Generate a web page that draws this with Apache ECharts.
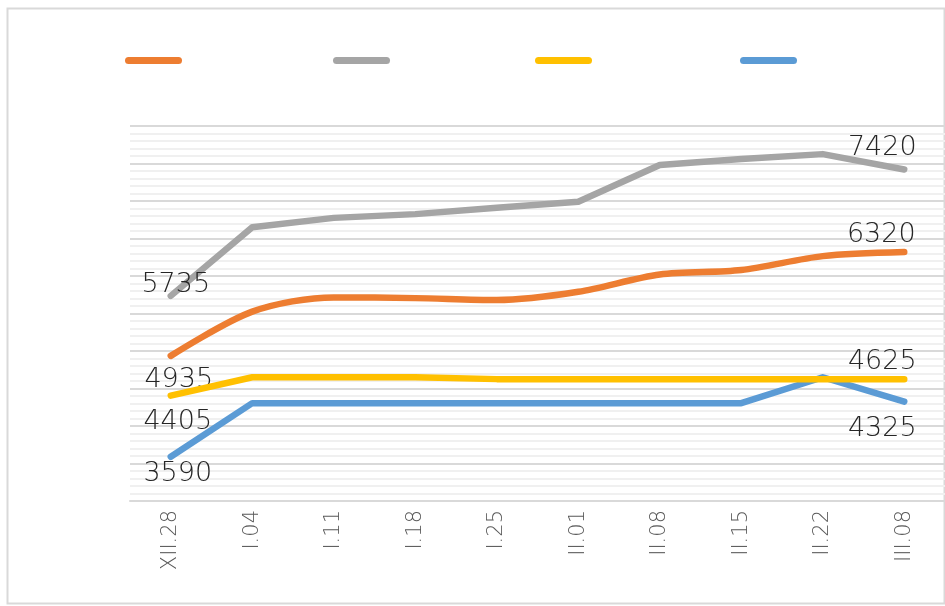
<!DOCTYPE html>
<html><head><meta charset="utf-8">
<script src="https://cdn.jsdelivr.net/npm/echarts@6/dist/echarts.min.js"></script>
<style>html,body{margin:0;padding:0;background:#fff}#c{width:945px;height:606px}</style>
</head><body><div id="c"></div>
<script>
const categories = ['XII.28','I.04','I.11','I.18','I.25','II.01','II.08','II.15','II.22','III.08'];
const seriesOrange = [4935, 5525, 5715, 5705, 5680, 5790, 6020, 6080, 6265, 6320];
const seriesGray   = [5735, 6650, 6775, 6825, 6910, 6990, 7480, 7560, 7625, 7420];
const seriesYellow = [4405, 4650, 4650, 4650, 4625, 4625, 4625, 4625, 4625, 4625];
const seriesBlue   = [3590, 4305, 4305, 4305, 4305, 4305, 4305, 4305, 4650, 4325];
const seriesNames = ['s1', 's2', 's3', 's4'];

const colors = ['#ED7D31', '#A5A5A5', '#FFC000', '#5B9BD5'];
const labelFont = {fontFamily: 'DejaVu Sans', fontWeight: 200, fontSize: 27, color: '#262626'};
// [first label offset, last label offset] relative to point center
const labelOffsets = [
  [[8, 24], [-23, -17]],
  [[5, -11], [-22, -22]],
  [[7, 26], [-22, -17]],
  [[7, 17], [-22, 27]]
];
function build(values, idx) {
  return values.map((v, i) => {
    if (i === 0 || i === values.length - 1) {
      const off = labelOffsets[idx][i === 0 ? 0 : 1];
      return {value: v, label: Object.assign({show: true, position: 'inside', offset: off}, labelFont)};
    }
    return v;
  });
}
const all = [seriesOrange, seriesGray, seriesYellow, seriesBlue];
const pill = 'path://M3.5,0 H53.5 A3.5,3.5 0 0 1 53.5,7 H3.5 A3.5,3.5 0 0 1 3.5,0 Z';
const legendLeft = [125, 333, 535, 740];

const chart = echarts.init(document.getElementById('c'), null, {renderer: 'canvas'});
chart.setOption({
  animation: false,
  backgroundColor: '#fff',
  graphic: [{
    type: 'rect', left: 5, top: 6, silent: true,
    shape: {width: 937, height: 595},
    style: {fill: 'none', stroke: '#D9D9D9', lineWidth: 2}
  }],
  legend: seriesNames.map((n, i) => ({
    data: [n], left: legendLeft[i], top: 57, padding: 0, icon: pill, itemWidth: 57, itemHeight: 7,
    formatter: () => '', selectedMode: false
  })),
  grid: {left: 130, right: 0, top: 126, bottom: 105},
  xAxis: {
    type: 'category', data: categories, boundaryGap: true,
    axisLine: {lineStyle: {color: '#D9D9D9', width: 2}},
    axisTick: {show: false},
    axisLabel: {rotate: 90, color: '#595959', fontSize: 21, fontFamily: 'DejaVu Sans', fontWeight: 200, margin: 9}
  },
  yAxis: {
    type: 'value', min: 3000, max: 8000, interval: 500,
    axisLabel: {show: false}, axisLine: {show: false}, axisTick: {show: false},
    splitLine: {lineStyle: {color: '#D9D9D9', width: 2}},
    minorTick: {show: false, splitNumber: 5},
    minorSplitLine: {show: true, lineStyle: {color: '#F0F0F0', width: 2}}
  },
  series: all.map((vals, i) => ({
    name: seriesNames[i], type: 'line', data: build(vals, i),
    smooth: i === 0 ? 0.3 : false,
    showSymbol: true, symbolSize: 0.1, symbol: 'circle',
    itemStyle: {color: colors[i]},
    lineStyle: {color: colors[i], width: 6.5, cap: 'round', join: 'round'},
    z: [3, 4, 5, 2][i]
  }))
});
</script></body></html>
